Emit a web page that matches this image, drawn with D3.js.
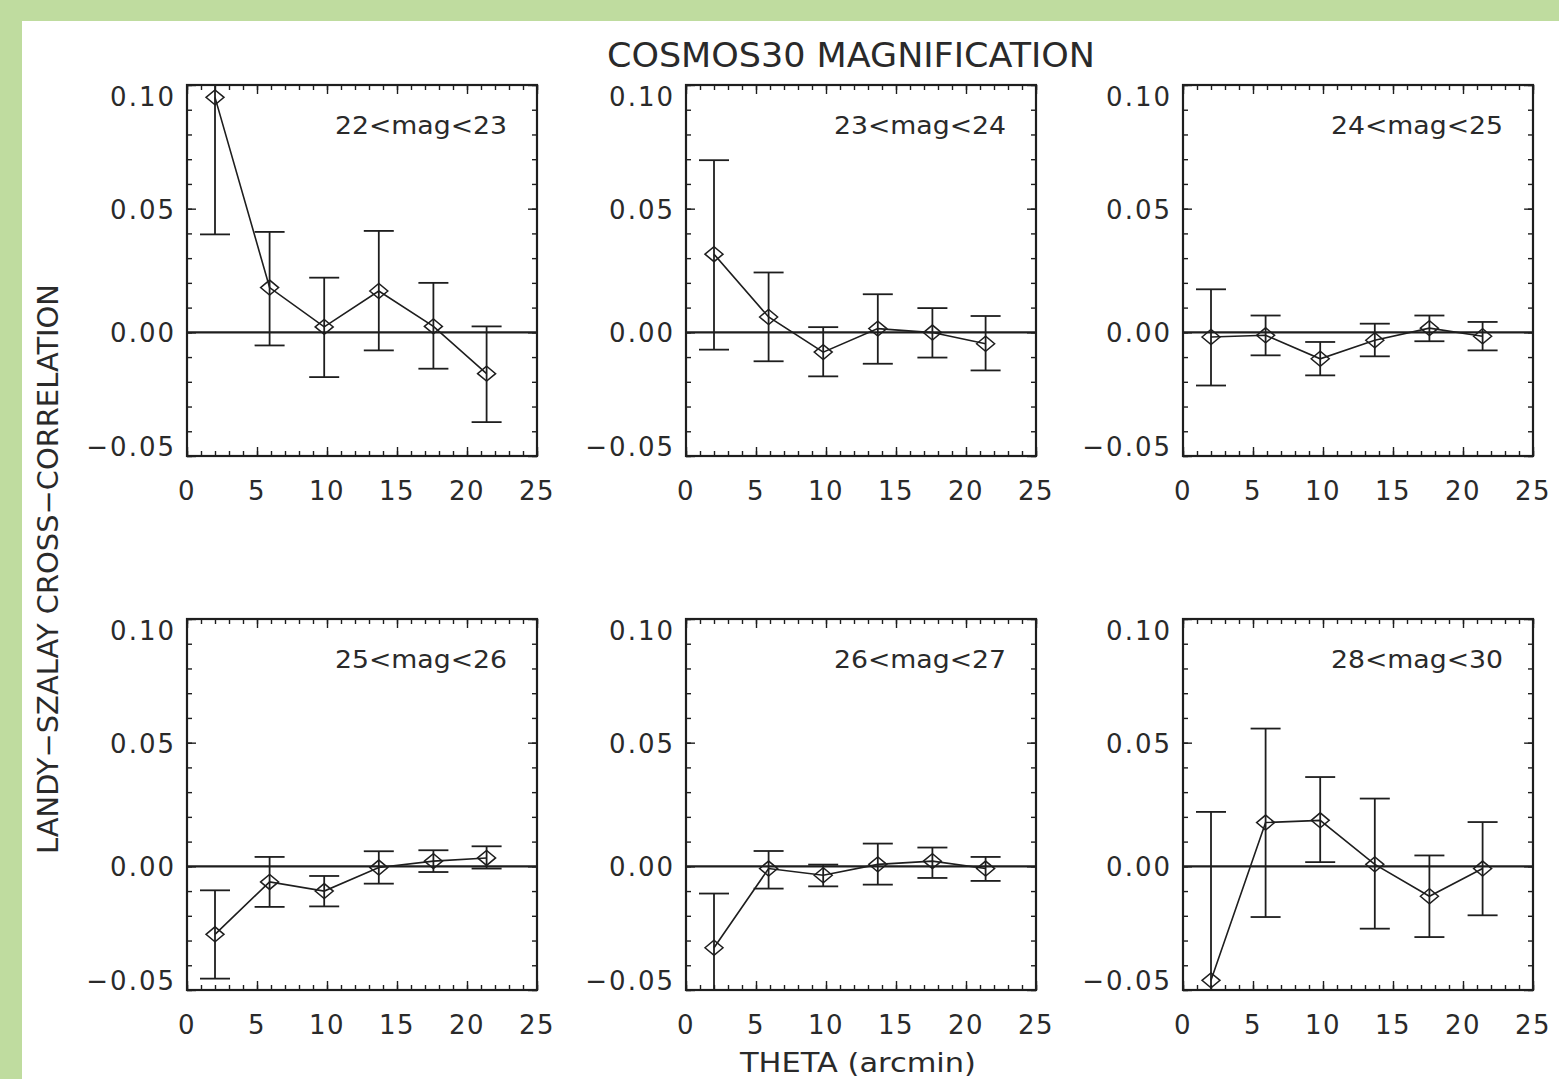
<!DOCTYPE html>
<html>
<head>
<meta charset="utf-8">
<script src="https://cdn.jsdelivr.net/npm/d3@7"></script>
<style>
body { margin: 0; background: #fff; }
svg text { font-family: "DejaVu Sans", sans-serif; fill: #2a2a2a; }
.tick line { stroke: #1e1e1e; stroke-width: 1.4; }
</style>
</head>
<body>
<div id="chart"></div>
<script>
// angular bins (arcmin), same for every panel
var theta = [2.0, 5.9, 9.8, 13.7, 17.6, 21.4];

var magBins = ["22<mag<23", "23<mag<24", "24<mag<25", "25<mag<26", "26<mag<27", "28<mag<30"];

// Landy-Szalay cross-correlation
var w_22_23 = [0.095, 0.0181, 0.0022, 0.0167, 0.0024, -0.0167];
var w_23_24 = [0.0316, 0.0062, -0.0080, 0.0015, -0.0001, -0.0046];
var w_24_25 = [-0.0019, -0.0012, -0.0107, -0.0032, 0.0017, -0.0016];
var w_25_26 = [-0.0275, -0.0063, -0.0100, -0.0005, 0.0021, 0.0034];
var w_26_27 = [-0.0329, -0.0009, -0.0036, 0.0008, 0.0021, -0.0009];
var w_28_30 = [-0.0461, 0.0177, 0.0186, 0.0008, -0.0121, -0.0009];

// error bar ends (upper / lower)
var hi_22_23 = [0.151, 0.0406, 0.0221, 0.0410, 0.0200, 0.0024];
var lo_22_23 = [0.0396, -0.0053, -0.0181, -0.0073, -0.0147, -0.0363];
var hi_23_24 = [0.0696, 0.0242, 0.0021, 0.0154, 0.0098, 0.0066];
var lo_23_24 = [-0.0070, -0.0117, -0.0178, -0.0127, -0.0102, -0.0154];
var hi_24_25 = [0.0174, 0.0068, -0.0039, 0.0035, 0.0068, 0.0042];
var lo_24_25 = [-0.0215, -0.0093, -0.0174, -0.0097, -0.0036, -0.0073];
var hi_25_26 = [-0.0097, 0.0038, -0.0039, 0.0061, 0.0065, 0.0081];
var lo_25_26 = [-0.0454, -0.0164, -0.0162, -0.0070, -0.0023, -0.0009];
var hi_26_27 = [-0.0110, 0.0062, 0.0007, 0.0092, 0.0076, 0.0038];
var lo_26_27 = [-0.0548, -0.0090, -0.0081, -0.0074, -0.0047, -0.0059];
var hi_28_30 = [0.0220, 0.0557, 0.0361, 0.0274, 0.0044, 0.0179];
var lo_28_30 = [-0.114, -0.0205, 0.0017, -0.0252, -0.0286, -0.0198];

var xTicks = [0, 5, 10, 15, 20, 25];
var yTicks = [0.10, 0.05, 0.00, -0.05];

var panels = [
  {label: magBins[0], w: w_22_23, hi: hi_22_23, lo: lo_22_23},
  {label: magBins[1], w: w_23_24, hi: hi_23_24, lo: lo_23_24},
  {label: magBins[2], w: w_24_25, hi: hi_24_25, lo: lo_24_25},
  {label: magBins[3], w: w_25_26, hi: hi_25_26, lo: lo_25_26},
  {label: magBins[4], w: w_26_27, hi: hi_26_27, lo: lo_26_27},
  {label: magBins[5], w: w_28_30, hi: hi_28_30, lo: lo_28_30}
];

var width = 1559, height = 1079;
var colLeft = [187, 686, 1183];
var rowTop = [85, 619];
var plotW = 350, plotH = 371;
var ink = "#1e1e1e";

var svg = d3.select("#chart").append("svg")
    .attr("width", width)
    .attr("height", height);

// green frame of the slide
svg.append("rect").attr("x", 0).attr("y", 0).attr("width", width).attr("height", 21).attr("fill", "#bfdc9f");
svg.append("rect").attr("x", 0).attr("y", 0).attr("width", 22).attr("height", height).attr("fill", "#bfdc9f");

svg.append("text")
    .attr("x", 851).attr("y", 55)
    .attr("text-anchor", "middle")
    .attr("dominant-baseline", "central")
    .attr("font-size", 33)
    .attr("textLength", 488)
    .attr("lengthAdjust", "spacingAndGlyphs")
    .text("COSMOS30  MAGNIFICATION");

svg.append("text")
    .attr("transform", "translate(48,569) rotate(-90)")
    .attr("text-anchor", "middle")
    .attr("dominant-baseline", "central")
    .attr("font-size", 29)
    .attr("textLength", 570)
    .attr("lengthAdjust", "spacingAndGlyphs")
    .text("LANDY\u2212SZALAY  CROSS\u2212CORRELATION");

svg.append("text")
    .attr("x", 858).attr("y", 1062)
    .attr("text-anchor", "middle")
    .attr("dominant-baseline", "central")
    .attr("font-size", 27)
    .attr("textLength", 236)
    .attr("lengthAdjust", "spacingAndGlyphs")
    .text("THETA  (arcmin)");

var xScale = d3.scaleLinear().domain([0, 25]).range([0, plotW]);
var yScale = d3.scaleLinear().domain([-0.05, 0.10]).range([plotH, 0]);

var xMinor = d3.range(0, 26, 1);
var yMinor = d3.range(-5, 11, 1).map(d => d / 100);
var fmtY = d3.format(".2f");

svg.append("defs").append("clipPath")
    .attr("id", "plotclip")
  .append("rect")
    .attr("width", plotW).attr("height", plotH);

panels.forEach(function(p, i) {
  var g = svg.append("g")
      .attr("transform", `translate(${colLeft[i % 3]}, ${rowTop[Math.floor(i / 3)]})`);

  // ticks on all four sides, pointing inward
  function ticks(axis, values, size, tr) {
    var a = g.append("g").attr("transform", tr)
        .call(axis.tickValues(values).tickSize(size).tickSizeOuter(0).tickFormat(""));
    a.select(".domain").remove();
  }
  ticks(d3.axisBottom(xScale), xMinor, -5, `translate(0,${plotH})`);
  ticks(d3.axisBottom(xScale), xTicks, -9, `translate(0,${plotH})`);
  ticks(d3.axisTop(xScale), xMinor, -5, "translate(0,0)");
  ticks(d3.axisTop(xScale), xTicks, -9, "translate(0,0)");
  ticks(d3.axisLeft(yScale), yMinor, -5, "translate(0,0)");
  ticks(d3.axisLeft(yScale), yTicks, -9, "translate(0,0)");
  ticks(d3.axisRight(yScale), yMinor, -5, `translate(${plotW},0)`);
  ticks(d3.axisRight(yScale), yTicks, -9, `translate(${plotW},0)`);

  g.append("rect")
      .attr("width", plotW).attr("height", plotH)
      .attr("fill", "none")
      .attr("stroke", ink)
      .attr("stroke-width", 2.2);

  // tick labels
  g.selectAll(".xlab").data(xTicks).enter().append("text")
      .attr("class", "xlab")
      .attr("x", d => xScale(d))
      .attr("y", plotH + 35)
      .attr("text-anchor", "middle")
      .attr("dominant-baseline", "central")
      .attr("font-size", 26)
      .attr("letter-spacing", 1.5)
      .text(d => d);

  g.selectAll(".ylab").data(yTicks).enter().append("text")
      .attr("class", "ylab")
      .attr("x", -11)
      .attr("y", d => Math.min(Math.max(yScale(d), 11), plotH - 10) + 1)
      .attr("text-anchor", "end")
      .attr("dominant-baseline", "central")
      .attr("font-size", 26)
      .attr("letter-spacing", 2)
      .text(d => fmtY(d).replace("-", "\u2212"));

  g.append("text")
      .attr("x", plotW - 30)
      .attr("y", 40)
      .attr("text-anchor", "end")
      .attr("dominant-baseline", "central")
      .attr("font-size", 25)
      .attr("textLength", 172)
      .attr("lengthAdjust", "spacingAndGlyphs")
      .text(p.label);

  // zero line
  g.append("line")
      .attr("x1", 0).attr("x2", plotW)
      .attr("y1", yScale(0)).attr("y2", yScale(0))
      .attr("stroke", ink)
      .attr("stroke-width", 2.2);

  var data = theta.map((t, k) => ({t: t, w: p.w[k], hi: p.hi[k], lo: p.lo[k]}));
  var inner = g.append("g").attr("clip-path", "url(#plotclip)");

  var bars = inner.selectAll(".err").data(data).enter().append("g")
      .attr("class", "err")
      .attr("stroke", ink)
      .attr("stroke-width", 1.8);
  bars.append("line")
      .attr("x1", d => xScale(d.t)).attr("x2", d => xScale(d.t))
      .attr("y1", d => yScale(d.hi)).attr("y2", d => yScale(d.lo));
  bars.append("line")
      .attr("x1", d => xScale(d.t) - 15).attr("x2", d => xScale(d.t) + 15)
      .attr("y1", d => yScale(d.hi)).attr("y2", d => yScale(d.hi));
  bars.append("line")
      .attr("x1", d => xScale(d.t) - 15).attr("x2", d => xScale(d.t) + 15)
      .attr("y1", d => yScale(d.lo)).attr("y2", d => yScale(d.lo));

  var line = d3.line().x(d => xScale(d.t)).y(d => yScale(d.w));
  inner.append("path")
      .datum(data)
      .attr("d", line)
      .attr("fill", "none")
      .attr("stroke", ink)
      .attr("stroke-width", 1.6);

  // diamond markers
  g.selectAll(".pt").data(data).enter().append("path")
      .attr("class", "pt")
      .attr("transform", d => `translate(${xScale(d.t)},${yScale(d.w)})`)
      .attr("d", "M-9,0L0,-7.5L9,0L0,7.5Z")
      .attr("fill", "none")
      .attr("stroke", ink)
      .attr("stroke-width", 1.5);
});
</script>
</body>
</html>
